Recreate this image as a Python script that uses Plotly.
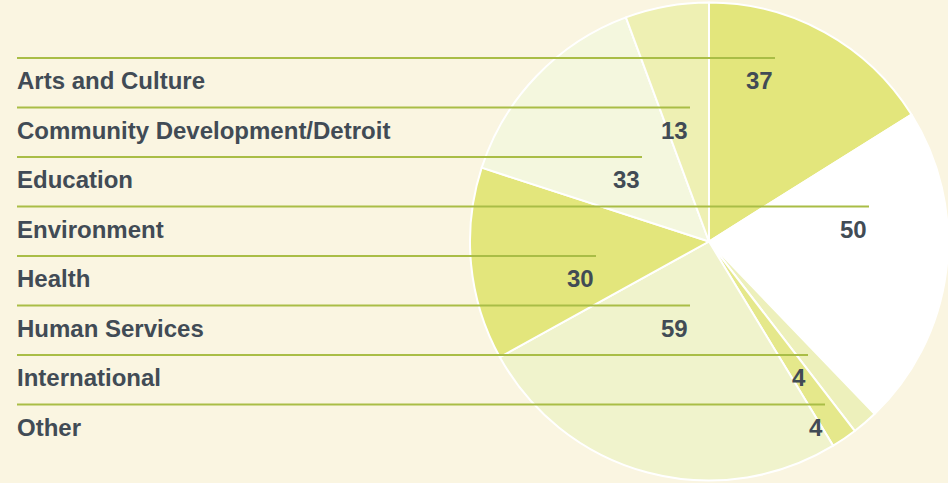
import plotly.graph_objects as go

# ---- data ----
categories = ["Arts and Culture", "Community Development/Detroit", "Education",
              "Environment", "Health", "Human Services", "International", "Other"]
values = [37, 13, 33, 50, 30, 59, 4, 4]

# order in which the slices run clockwise from 12 o'clock
pie_order = ["Arts and Culture", "Environment", "International", "Other",
             "Human Services", "Health", "Education", "Community Development/Detroit"]

slice_colors = {
    "Arts and Culture": "#e3e67c",
    "Environment": "#ffffff",
    "International": "#edf0bb",
    "Other": "#e5e88b",
    "Human Services": "#f0f3cc",
    "Health": "#e3e67c",
    "Education": "#f4f7de",
    "Community Development/Detroit": "#eef0b3",
}

# ---- layout helpers (pixels) ----
W, H = 948, 483
BG = "#faf5e1"
TEXT = "#414b55"
RULE = "#a9bd46"
row_line_y = [58, 107.5, 157, 206.5, 256, 305.5, 355, 404.5]
row_line_end = [775, 690, 642, 869, 596, 690, 808, 825]
left_x = 17

val_map = dict(zip(categories, values))
pie_vals = [val_map[c] for c in pie_order]

fig = go.Figure()
fig.add_trace(go.Pie(
    labels=pie_order,
    values=pie_vals,
    sort=False,
    direction="clockwise",
    rotation=0,
    marker=dict(colors=[slice_colors[c] for c in pie_order],
                line=dict(color="#ffffff", width=2)),
    textinfo="none",
    hoverinfo="label+value",
    showlegend=False,
    domain=dict(x=[470 / W, 1.0], y=[0.0, 1.0]),
))

def px(x):
    return x / W

def py(y):
    return 1 - y / H

font = dict(family="Liberation Sans, Arial, sans-serif", size=24, color=TEXT, weight="bold")

for cat, val, ly, le in zip(categories, values, row_line_y, row_line_end):
    fig.add_shape(type="line", xref="paper", yref="paper",
                  x0=px(left_x), x1=px(le), y0=py(ly), y1=py(ly),
                  line=dict(color=RULE, width=2), layer="above")
    fig.add_annotation(xref="paper", yref="paper", x=px(left_x), y=py(ly + 22.5),
                       text=cat, showarrow=False, xanchor="left", yanchor="middle",
                       xshift=-2, font=font)
    fig.add_annotation(xref="paper", yref="paper", x=px(le), y=py(ly + 22.5),
                       text=str(val), showarrow=False, xanchor="right", yanchor="middle",
                       font=font)

fig.update_layout(
    width=W, height=H,
    margin=dict(l=0, r=0, t=0, b=0),
    paper_bgcolor=BG,
    plot_bgcolor=BG,
)

fig.write_html("out.html")
